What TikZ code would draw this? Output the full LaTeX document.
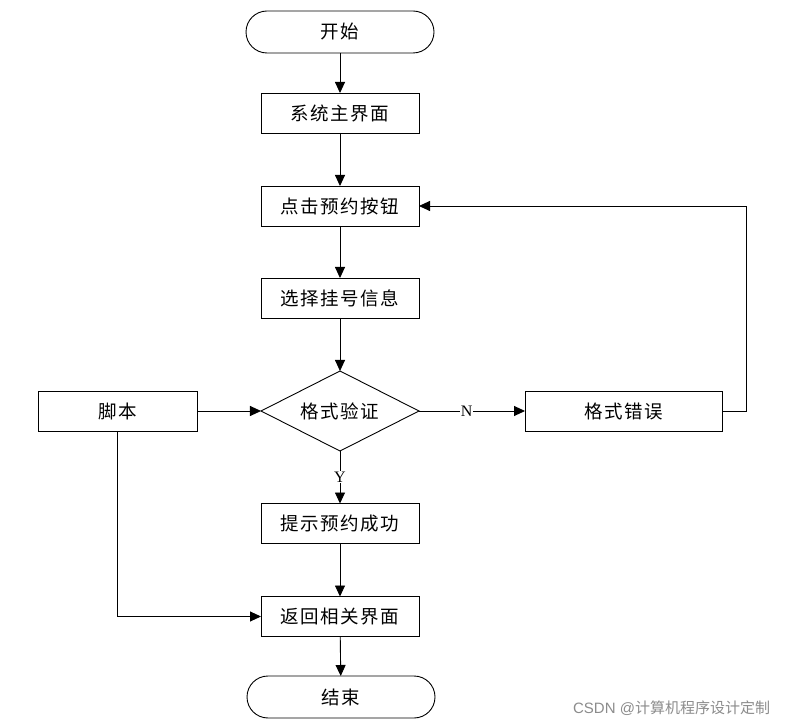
\documentclass[tikz,border=0pt]{standalone}
\usepackage{fontspec}
\setmainfont{Liberation Serif}
\newfontfamily\cjk[LetterSpace=8]{Noto Sans CJK SC}
\newfontfamily\cjkplain{Noto Sans CJK SC}
\newfontfamily\wmfont{Liberation Sans}
\usetikzlibrary{arrows.meta,shapes.geometric,shapes.misc}
\begin{document}
\begin{tikzpicture}[x=1pt,y=-1pt,
  line width=0.9pt,
  every node/.style={inner sep=0pt,outer sep=0pt},
  txt/.style={font=\cjk\fontsize{18.5}{22}\selectfont},
  box/.style={draw,rectangle,minimum width=158pt,minimum height=40pt,txt},
  term/.style={draw,rounded rectangle,minimum width=188pt,minimum height=42pt,txt},
  dia/.style={draw,diamond,aspect=1.975,minimum width=158pt,minimum height=80pt,inner sep=0pt,txt},
  lbl/.style={fill=white,inner sep=1pt,font=\fontsize{16}{18}\selectfont},
  arr/.style={-{Triangle[length=11pt,width=10pt]}}
]
\useasboundingbox[fill=white] (0,0) rectangle (785,727);
\node[term] (start) at (340,32) {开始};
\node[box] (main) at (340,113) {系统主界面};
\node[box] (click) at (340,206) {点击预约按钮};
\node[box] (sel) at (340,298) {选择挂号信息};
\node[dia] (ver) at (340,411) {格式验证};
\node[box,minimum width=197pt] (err) at (623.5,411) {格式错误};
\node[box,minimum width=159pt] (script) at (117.5,411) {脚本};
\node[box] (ok) at (340,523.5) {提示预约成功};
\node[box] (ret) at (340,616.5) {返回相关界面};
\node[term] (end) at (341,697) {结束};
\coordinate (c1) at (746,411);
\coordinate (c2) at (746,206);
\coordinate (c3) at (117.5,616.5);

\draw[arr] (start) -- (main);
\draw[arr] (main) -- (click);
\draw[arr] (click) -- (sel);
\draw[arr] (sel) -- (ver);
\draw[arr] (ver) -- node[lbl,pos=0.45]{N} (err);
\draw[arr] (ver) -- node[lbl,pos=0.5]{Y} (ok);
\draw[arr] (ok) -- (ret);
\draw[arr] (ret) -- (end);
\draw[arr] (script) -- (ver);
\draw[arr] (err.east) -- (c1) -- (c2) -- (click.east);
\draw[arr] (script.south) -- (c3) -- (ret.west);

\node[anchor=east,text=black!45,font=\wmfont\fontsize{15}{18}\selectfont] (wm) at (770,708) {CSDN @{\cjkplain 计算机程序设计定制}};
\end{tikzpicture}
\end{document}
